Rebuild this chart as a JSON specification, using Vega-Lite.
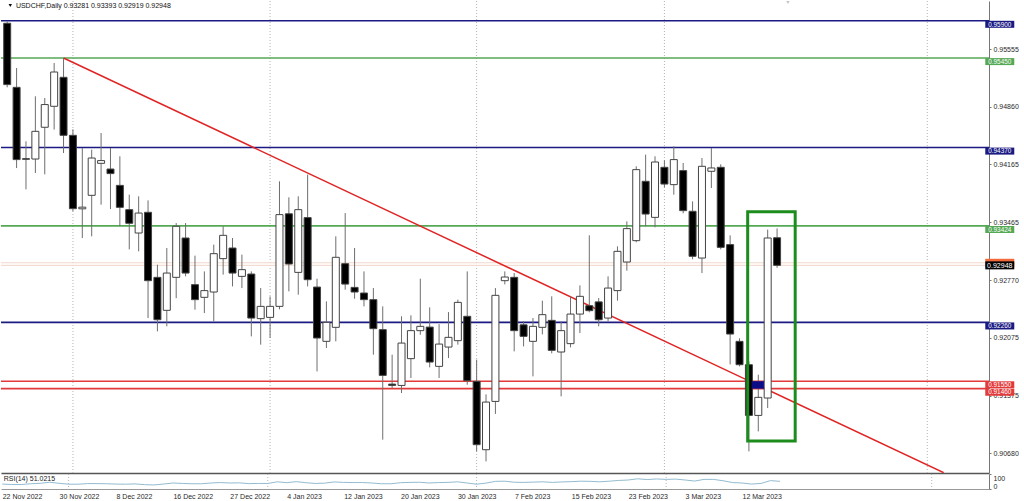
{
  "$schema": "https://vega.github.io/schema/vega-lite/v6.json",
  "padding": 0,
  "background": "white",
  "spacing": 1,
  "bounds": "flush",
  "config": {"view": {"stroke": null}, "font": "Liberation Sans", "axis": {"labelFont": "Liberation Sans", "labelFontSize": 7, "labelColor": "#2a2a2a", "grid": false}},
  "resolve": {"scale": {"x": "independent", "y": "independent", "color": "independent"}},
  "datasets": {
    "candles": [
      {"i":0,"date":"22 Nov 2022","o":0.95869,"h":0.95893,"l":0.95096,"c":0.95129},
      {"i":1,"date":"23 Nov 2022","o":0.95096,"h":0.95329,"l":0.94122,"c":0.94224},
      {"i":2,"date":"24 Nov 2022","o":0.94235,"h":0.94445,"l":0.93865,"c":0.94228},
      {"i":3,"date":"25 Nov 2022","o":0.94231,"h":0.94988,"l":0.94062,"c":0.94565},
      {"i":4,"date":"28 Nov 2022","o":0.94614,"h":0.94967,"l":0.94046,"c":0.94888},
      {"i":5,"date":"29 Nov 2022","o":0.94867,"h":0.95390,"l":0.94586,"c":0.95281},
      {"i":6,"date":"30 Nov 2022","o":0.95217,"h":0.95450,"l":0.94303,"c":0.94517},
      {"i":7,"date":"1 Dec 2022","o":0.94517,"h":0.94589,"l":0.93600,"c":0.93632},
      {"i":8,"date":"2 Dec 2022","o":0.93630,"h":0.94364,"l":0.93277,"c":0.93650},
      {"i":9,"date":"5 Dec 2022","o":0.93793,"h":0.94344,"l":0.93298,"c":0.94243},
      {"i":10,"date":"6 Dec 2022","o":0.94179,"h":0.94545,"l":0.93680,"c":0.94212},
      {"i":11,"date":"7 Dec 2022","o":0.94110,"h":0.94364,"l":0.93627,"c":0.94055},
      {"i":12,"date":"8 Dec 2022","o":0.93913,"h":0.94264,"l":0.93419,"c":0.93648},
      {"i":13,"date":"9 Dec 2022","o":0.93620,"h":0.93801,"l":0.93141,"c":0.93455},
      {"i":14,"date":"12 Dec 2022","o":0.93338,"h":0.93781,"l":0.93117,"c":0.93579},
      {"i":15,"date":"13 Dec 2022","o":0.93588,"h":0.93732,"l":0.92312,"c":0.92763},
      {"i":16,"date":"14 Dec 2022","o":0.92803,"h":0.92956,"l":0.92151,"c":0.92292},
      {"i":17,"date":"15 Dec 2022","o":0.92405,"h":0.93157,"l":0.92212,"c":0.92855},
      {"i":18,"date":"16 Dec 2022","o":0.92803,"h":0.93458,"l":0.92552,"c":0.93419},
      {"i":19,"date":"19 Dec 2022","o":0.93278,"h":0.93458,"l":0.92815,"c":0.92855},
      {"i":20,"date":"20 Dec 2022","o":0.92715,"h":0.93065,"l":0.92413,"c":0.92534},
      {"i":21,"date":"21 Dec 2022","o":0.92562,"h":0.92875,"l":0.92372,"c":0.92643},
      {"i":22,"date":"22 Dec 2022","o":0.92626,"h":0.93198,"l":0.92272,"c":0.93089},
      {"i":23,"date":"23 Dec 2022","o":0.93029,"h":0.93419,"l":0.92836,"c":0.93310},
      {"i":24,"date":"27 Dec 2022","o":0.93157,"h":0.93278,"l":0.92694,"c":0.92855},
      {"i":25,"date":"28 Dec 2022","o":0.92815,"h":0.93077,"l":0.92674,"c":0.92896},
      {"i":26,"date":"29 Dec 2022","o":0.92843,"h":0.92875,"l":0.92091,"c":0.92312},
      {"i":27,"date":"30 Dec 2022","o":0.92305,"h":0.92674,"l":0.91991,"c":0.92453},
      {"i":28,"date":"2 Jan 2023","o":0.92320,"h":0.92573,"l":0.92071,"c":0.92453},
      {"i":29,"date":"3 Jan 2023","o":0.92453,"h":0.93962,"l":0.92417,"c":0.93560},
      {"i":30,"date":"4 Jan 2023","o":0.93570,"h":0.93769,"l":0.92634,"c":0.92964},
      {"i":31,"date":"5 Jan 2023","o":0.92863,"h":0.93781,"l":0.92594,"c":0.93620},
      {"i":32,"date":"6 Jan 2023","o":0.93524,"h":0.94043,"l":0.92694,"c":0.92775},
      {"i":33,"date":"9 Jan 2023","o":0.92686,"h":0.92787,"l":0.91668,"c":0.92071},
      {"i":34,"date":"10 Jan 2023","o":0.92031,"h":0.92513,"l":0.91950,"c":0.92260},
      {"i":35,"date":"11 Jan 2023","o":0.92200,"h":0.93298,"l":0.92031,"c":0.93045},
      {"i":36,"date":"12 Jan 2023","o":0.92968,"h":0.93579,"l":0.92654,"c":0.92722},
      {"i":37,"date":"13 Jan 2023","o":0.92682,"h":0.93157,"l":0.92545,"c":0.92626},
      {"i":38,"date":"16 Jan 2023","o":0.92614,"h":0.92875,"l":0.92453,"c":0.92534},
      {"i":39,"date":"17 Jan 2023","o":0.92534,"h":0.92674,"l":0.91870,"c":0.92184},
      {"i":40,"date":"18 Jan 2023","o":0.92172,"h":0.92453,"l":0.90844,"c":0.91620},
      {"i":41,"date":"19 Jan 2023","o":0.91515,"h":0.91870,"l":0.91467,"c":0.91499},
      {"i":42,"date":"20 Jan 2023","o":0.91499,"h":0.92333,"l":0.91407,"c":0.92010},
      {"i":43,"date":"23 Jan 2023","o":0.91822,"h":0.92345,"l":0.91588,"c":0.92160},
      {"i":44,"date":"24 Jan 2023","o":0.92160,"h":0.92787,"l":0.92110,"c":0.92212},
      {"i":45,"date":"25 Jan 2023","o":0.92203,"h":0.92441,"l":0.91717,"c":0.91781},
      {"i":46,"date":"26 Jan 2023","o":0.91729,"h":0.92239,"l":0.91588,"c":0.91998},
      {"i":47,"date":"27 Jan 2023","o":0.91962,"h":0.92384,"l":0.91829,"c":0.92079},
      {"i":48,"date":"30 Jan 2023","o":0.92039,"h":0.92534,"l":0.91991,"c":0.92501},
      {"i":49,"date":"31 Jan 2023","o":0.92333,"h":0.92875,"l":0.91508,"c":0.91556},
      {"i":50,"date":"1 Feb 2023","o":0.91548,"h":0.91810,"l":0.90703,"c":0.90784},
      {"i":51,"date":"2 Feb 2023","o":0.90723,"h":0.91391,"l":0.90582,"c":0.91298},
      {"i":52,"date":"3 Feb 2023","o":0.91306,"h":0.92674,"l":0.91155,"c":0.92586},
      {"i":53,"date":"6 Feb 2023","o":0.92763,"h":0.92875,"l":0.92718,"c":0.92807},
      {"i":54,"date":"7 Feb 2023","o":0.92803,"h":0.92855,"l":0.91910,"c":0.92160},
      {"i":55,"date":"8 Feb 2023","o":0.92230,"h":0.92272,"l":0.91970,"c":0.92091},
      {"i":56,"date":"9 Feb 2023","o":0.92031,"h":0.92312,"l":0.91608,"c":0.92212},
      {"i":57,"date":"10 Feb 2023","o":0.92200,"h":0.92522,"l":0.92115,"c":0.92353},
      {"i":58,"date":"13 Feb 2023","o":0.92284,"h":0.92574,"l":0.91886,"c":0.91922},
      {"i":59,"date":"14 Feb 2023","o":0.91902,"h":0.92272,"l":0.91367,"c":0.92160},
      {"i":60,"date":"15 Feb 2023","o":0.92003,"h":0.92574,"l":0.91958,"c":0.92360},
      {"i":61,"date":"16 Feb 2023","o":0.92360,"h":0.92706,"l":0.92131,"c":0.92574},
      {"i":62,"date":"17 Feb 2023","o":0.92461,"h":0.93310,"l":0.92381,"c":0.92401},
      {"i":63,"date":"20 Feb 2023","o":0.92507,"h":0.92553,"l":0.92212,"c":0.92292},
      {"i":64,"date":"21 Feb 2023","o":0.92312,"h":0.92815,"l":0.92272,"c":0.92674},
      {"i":65,"date":"22 Feb 2023","o":0.92643,"h":0.93177,"l":0.92522,"c":0.93117},
      {"i":66,"date":"23 Feb 2023","o":0.92988,"h":0.93479,"l":0.92884,"c":0.93391},
      {"i":67,"date":"24 Feb 2023","o":0.93246,"h":0.94143,"l":0.93226,"c":0.94103},
      {"i":68,"date":"27 Feb 2023","o":0.93962,"h":0.94284,"l":0.93419,"c":0.93567},
      {"i":69,"date":"28 Feb 2023","o":0.93527,"h":0.94264,"l":0.93407,"c":0.94195},
      {"i":70,"date":"1 Mar 2023","o":0.94131,"h":0.94215,"l":0.93889,"c":0.93929},
      {"i":71,"date":"2 Mar 2023","o":0.93922,"h":0.94384,"l":0.93801,"c":0.94224},
      {"i":72,"date":"3 Mar 2023","o":0.94091,"h":0.94183,"l":0.93576,"c":0.93608},
      {"i":73,"date":"6 Mar 2023","o":0.93600,"h":0.93720,"l":0.93021,"c":0.93057},
      {"i":74,"date":"7 Mar 2023","o":0.93036,"h":0.94243,"l":0.92855,"c":0.94143},
      {"i":75,"date":"8 Mar 2023","o":0.94083,"h":0.94364,"l":0.93881,"c":0.94123},
      {"i":76,"date":"9 Mar 2023","o":0.94131,"h":0.94167,"l":0.93141,"c":0.93165},
      {"i":77,"date":"10 Mar 2023","o":0.93198,"h":0.93310,"l":0.91753,"c":0.92119},
      {"i":78,"date":"12 Mar 2023","o":0.92031,"h":0.92067,"l":0.91729,"c":0.91749},
      {"i":79,"date":"13 Mar 2023","o":0.91749,"h":0.91789,"l":0.90703,"c":0.91137},
      {"i":80,"date":"14 Mar 2023","o":0.91137,"h":0.91628,"l":0.90944,"c":0.91355},
      {"i":81,"date":"15 Mar 2023","o":0.91347,"h":0.93379,"l":0.91226,"c":0.93278},
      {"i":82,"date":"16 Mar 2023","o":0.93281,"h":0.93393,"l":0.92919,"c":0.92948}
    ],
    "levels": [
      {"p":0.95900,"kind":"navy"},
      {"p":0.95450,"kind":"green"},
      {"p":0.94370,"kind":"navy"},
      {"p":0.93424,"kind":"green"},
      {"p":0.92260,"kind":"navy"},
      {"p":0.91550,"kind":"red"},
      {"p":0.91460,"kind":"red"}
    ],
    "prices": [
      {"p":0.92979,"kind":"ask"},
      {"p":0.92948,"kind":"bid"}
    ],
    "trend": [
      {"i":6,"p":0.95450},
      {"i":99.75,"p":0.90446}
    ],
    "marker": [{"i1":79.3,"i2":80.6,"p1":0.91550,"p2":0.91460}],
    "box": [{"i1":78.87,"i2":83.93,"p1":0.93595,"p2":0.90828}],
    "grid": [{"i":7},{"i":28},{"i":50},{"i":70},{"i":98}],
    "header": [{"t":"USDCHF,Daily  0.93281 0.93393 0.92919 0.92948"}],
    "rsi": [
      {"i":0,"v":33},{"i":1,"v":30},{"i":2,"v":30},{"i":3,"v":35},{"i":4,"v":38},{"i":5,"v":45},{"i":6,"v":38},
      {"i":7,"v":32},{"i":8,"v":32},{"i":9,"v":36},{"i":10,"v":36},{"i":11,"v":35},{"i":12,"v":33},{"i":13,"v":32},{"i":14,"v":34},{"i":15,"v":29},
      {"i":16,"v":27},{"i":17,"v":33},{"i":18,"v":40},{"i":19,"v":37},{"i":20,"v":35},{"i":21,"v":35},{"i":22,"v":40},{"i":23,"v":43},{"i":24,"v":40},{"i":25,"v":41},{"i":26,"v":36},{"i":27,"v":37},{"i":28,"v":37},
      {"i":29,"v":48},{"i":30,"v":42},{"i":31,"v":49},{"i":32,"v":42},{"i":33,"v":37},{"i":34,"v":39},{"i":35,"v":47},{"i":36,"v":44},{"i":37,"v":43},{"i":38,"v":43},{"i":39,"v":40},{"i":40,"v":35},
      {"i":41,"v":35},{"i":42,"v":42},{"i":43,"v":44},{"i":44,"v":45},{"i":45,"v":40},{"i":46,"v":43},{"i":47,"v":44},{"i":48,"v":48},{"i":49,"v":40},
      {"i":50,"v":32},{"i":51,"v":39},{"i":52,"v":51},{"i":53,"v":52},{"i":54,"v":45},{"i":55,"v":44},
      {"i":56,"v":46},{"i":57,"v":48},{"i":58,"v":44},{"i":59,"v":47},{"i":60,"v":49},{"i":61,"v":52},{"i":62,"v":51},{"i":63,"v":48},{"i":64,"v":52},{"i":65,"v":57},{"i":66,"v":60},
      {"i":67,"v":68},{"i":68,"v":63},{"i":69,"v":67},{"i":70,"v":64},{"i":71,"v":66},{"i":72,"v":60},{"i":73,"v":53},{"i":74,"v":64},{"i":75,"v":64},{"i":76,"v":55},
      {"i":77,"v":43},{"i":78,"v":40},{"i":79,"v":33},{"i":80,"v":37},{"i":81,"v":56},{"i":82,"v":51}
    ]
  },
  "vconcat": [
    {
      "width": 988,
      "height": 472,
      "layer": [
        {
          "data": {"name": "grid"},
          "mark": {"type": "rule", "strokeDash": [1, 2], "color": "#b4b4b4", "strokeWidth": 1},
          "encoding": {
            "x": {"field": "i", "type": "quantitative", "title": null,
                  "scale": {"domain": [-0.128, 104.04], "nice": false, "zero": false},
                  "axis": {"orient": "bottom", "labels": false, "ticks": false, "domain": true, "domainColor": "#555555", "domainWidth": 1.5, "title": null}}
          }
        },
        {
          "data": {"name": "prices"},
          "mark": {"type": "rule", "color": "#f1d6c9", "strokeWidth": 1},
          "encoding": {
            "y": {"field": "p", "type": "quantitative", "title": null,
                  "scale": {"domain": [0.904422, 0.961378], "nice": false, "zero": false},
                  "axis": {"orient": "right", "values": [0.9068, 0.9103, 0.91375, 0.91725, 0.92075, 0.9242, 0.9277, 0.9312, 0.93465, 0.93815, 0.94165, 0.9451, 0.9486, 0.9521, 0.95555, 0.95905],
                           "format": ".5f", "tickSize": 2, "tickColor": "#777777", "labelPadding": 2, "domainColor": "#777777", "domainWidth": 1, "labelOverlap": false, "labelFlush": false, "labelBaseline": "middle", "title": null}}
          }
        },
        {
          "data": {"name": "levels"},
          "mark": {"type": "rule", "strokeWidth": 1.6},
          "encoding": {
            "y": {"field": "p", "type": "quantitative", "title": null},
            "color": {"field": "kind", "type": "nominal", "legend": null,
                      "scale": {"domain": ["navy", "green", "red", "ask", "bid"], "range": ["#1a1a82", "#55a955", "#e23a3a", "#f26a3c", "#000000"]}}
          }
        },
        {
          "data": {"name": "trend"},
          "mark": {"type": "line", "color": "#e02424", "strokeWidth": 1.5, "clip": true},
          "encoding": {
            "x": {"field": "i", "type": "quantitative", "title": null},
            "y": {"field": "p", "type": "quantitative", "title": null}
          }
        },
        {
          "data": {"name": "candles"},
          "mark": {"type": "rule", "color": "#6e6e6e", "strokeWidth": 1, "clip": true},
          "encoding": {
            "x": {"field": "i", "type": "quantitative", "title": null},
            "y": {"field": "l", "type": "quantitative", "title": null},
            "y2": {"field": "h"}
          }
        },
        {
          "data": {"name": "candles"},
          "mark": {"type": "bar", "width": 7, "stroke": "#444444", "strokeWidth": 1, "clip": true},
          "encoding": {
            "x": {"field": "i", "type": "quantitative", "title": null},
            "y": {"field": "o", "type": "quantitative", "title": null},
            "y2": {"field": "c"},
            "fill": {"condition": {"test": "datum.c < datum.o", "value": "#000000"}, "value": "#ffffff"}
          }
        },
        {
          "data": {"name": "marker"},
          "mark": {"type": "rect", "color": "#0c0c86"},
          "encoding": {
            "x": {"field": "i1", "type": "quantitative", "title": null},
            "x2": {"field": "i2"},
            "y": {"field": "p1", "type": "quantitative", "title": null},
            "y2": {"field": "p2"}
          }
        },
        {
          "data": {"name": "box"},
          "mark": {"type": "rect", "fill": "#ffffff", "fillOpacity": 0, "stroke": "#1c8c1c", "strokeWidth": 3},
          "encoding": {
            "x": {"field": "i1", "type": "quantitative", "title": null},
            "x2": {"field": "i2"},
            "y": {"field": "p1", "type": "quantitative", "title": null},
            "y2": {"field": "p2"}
          }
        },
        {
          "data": {"name": "levels"},
          "mark": {"type": "tick", "orient": "horizontal", "size": 29, "thickness": 7, "yOffset": 3.6, "opacity": 1},
          "encoding": {
            "x": {"datum": 105.72, "type": "quantitative"},
            "y": {"field": "p", "type": "quantitative", "title": null},
            "color": {"field": "kind", "type": "nominal", "legend": null,
                      "scale": {"domain": ["navy", "green", "red", "ask", "bid"], "range": ["#1a1a82", "#55a955", "#e23a3a", "#f26a3c", "#000000"]}}
          }
        },
        {
          "data": {"name": "levels"},
          "mark": {"type": "text", "fontSize": 6.4, "color": "#ffffff", "align": "center", "baseline": "middle", "yOffset": 3.8},
          "encoding": {
            "x": {"datum": 105.72, "type": "quantitative"},
            "y": {"field": "p", "type": "quantitative", "title": null},
            "text": {"field": "p", "type": "quantitative", "format": ".5f"}
          }
        },
        {
          "data": {"name": "prices"},
          "mark": {"type": "tick", "orient": "horizontal", "size": 29, "thickness": 8, "opacity": 1},
          "encoding": {
            "x": {"datum": 105.72, "type": "quantitative"},
            "y": {"field": "p", "type": "quantitative", "title": null},
            "color": {"field": "kind", "type": "nominal", "legend": null,
                      "scale": {"domain": ["navy", "green", "red", "ask", "bid"], "range": ["#1a1a82", "#55a955", "#e23a3a", "#f26a3c", "#000000"]}}
          }
        },
        {
          "data": {"name": "prices"},
          "transform": [{"filter": "datum.kind == 'bid'"}],
          "mark": {"type": "text", "fontSize": 7, "color": "#ffffff", "align": "center", "baseline": "middle", "yOffset": 0.3},
          "encoding": {
            "x": {"datum": 105.72, "type": "quantitative"},
            "y": {"field": "p", "type": "quantitative", "title": null},
            "text": {"field": "p", "type": "quantitative", "format": ".5f"}
          }
        },
        {
          "data": {"name": "header"},
          "mark": {"type": "text", "fontSize": 7, "color": "#111111", "align": "left", "baseline": "middle"},
          "encoding": {
            "x": {"datum": 0.926, "type": "quantitative"},
            "y": {"datum": 0.960775, "type": "quantitative"},
            "text": {"field": "t"}
          }
        },
        {
          "data": {"name": "header"},
          "mark": {"type": "point", "shape": "triangle-down", "filled": true, "color": "#111111", "size": 12, "opacity": 1},
          "encoding": {
            "x": {"datum": 0.33, "type": "quantitative"},
            "y": {"datum": 0.96082, "type": "quantitative"}
          }
        },
        {
          "data": {"name": "header"},
          "mark": {"type": "point", "shape": "triangle-down", "filled": true, "color": "#c4c4c4", "size": 45, "opacity": 1, "clip": true},
          "encoding": {
            "x": {"datum": 83.16, "type": "quantitative"},
            "y": {"datum": 0.961378, "type": "quantitative"}
          }
        }
      ]
    },
    {
      "width": 988,
      "height": 15,
      "layer": [
        {
          "data": {"name": "grid"},
          "mark": {"type": "rule", "strokeDash": [1, 2], "color": "#b4b4b4", "strokeWidth": 1},
          "encoding": {
            "x": {"field": "i", "type": "quantitative", "title": null,
                  "scale": {"domain": [-0.128, 104.04], "nice": false, "zero": false},
                  "axis": {"orient": "bottom", "values": [0, 6, 12, 18, 24, 30, 36, 42, 48, 54, 60, 66, 72, 78],
                           "labelExpr": "['22 Nov 2022','30 Nov 2022','8 Dec 2022','16 Dec 2022','27 Dec 2022','4 Jan 2023','12 Jan 2023','20 Jan 2023','30 Jan 2023','7 Feb 2023','15 Feb 2023','23 Feb 2023','3 Mar 2023','12 Mar 2023'][round(datum.value / 6)]",
                           "labelAlign": "left", "labelPadding": 3, "ticks": false, "domain": true, "domainColor": "#999999", "domainWidth": 1, "labelOverlap": false, "labelFlush": false, "title": null}}
          }
        },
        {
          "data": {"name": "rsi"},
          "mark": {"type": "line", "color": "#93bcd0", "strokeWidth": 1},
          "encoding": {
            "x": {"field": "i", "type": "quantitative", "title": null},
            "y": {"field": "v", "type": "quantitative", "title": null,
                  "scale": {"domain": [0, 100], "nice": false, "zero": false},
                  "axis": {"orient": "right", "values": [0, 30, 70, 100], "tickSize": 2, "tickColor": "#777777", "labelPadding": 2, "domainColor": "#777777", "labelFlush": true, "labelOverlap": false, "title": null}}
          }
        },
        {
          "data": {"values": [{"t": "RSI(14) 51.0215"}]},
          "mark": {"type": "text", "fontSize": 7, "color": "#222222", "align": "left", "baseline": "middle"},
          "encoding": {
            "x": {"datum": 0.16, "type": "quantitative"},
            "y": {"datum": 66, "type": "quantitative"},
            "text": {"field": "t"}
          }
        }
      ]
    }
  ]
}
